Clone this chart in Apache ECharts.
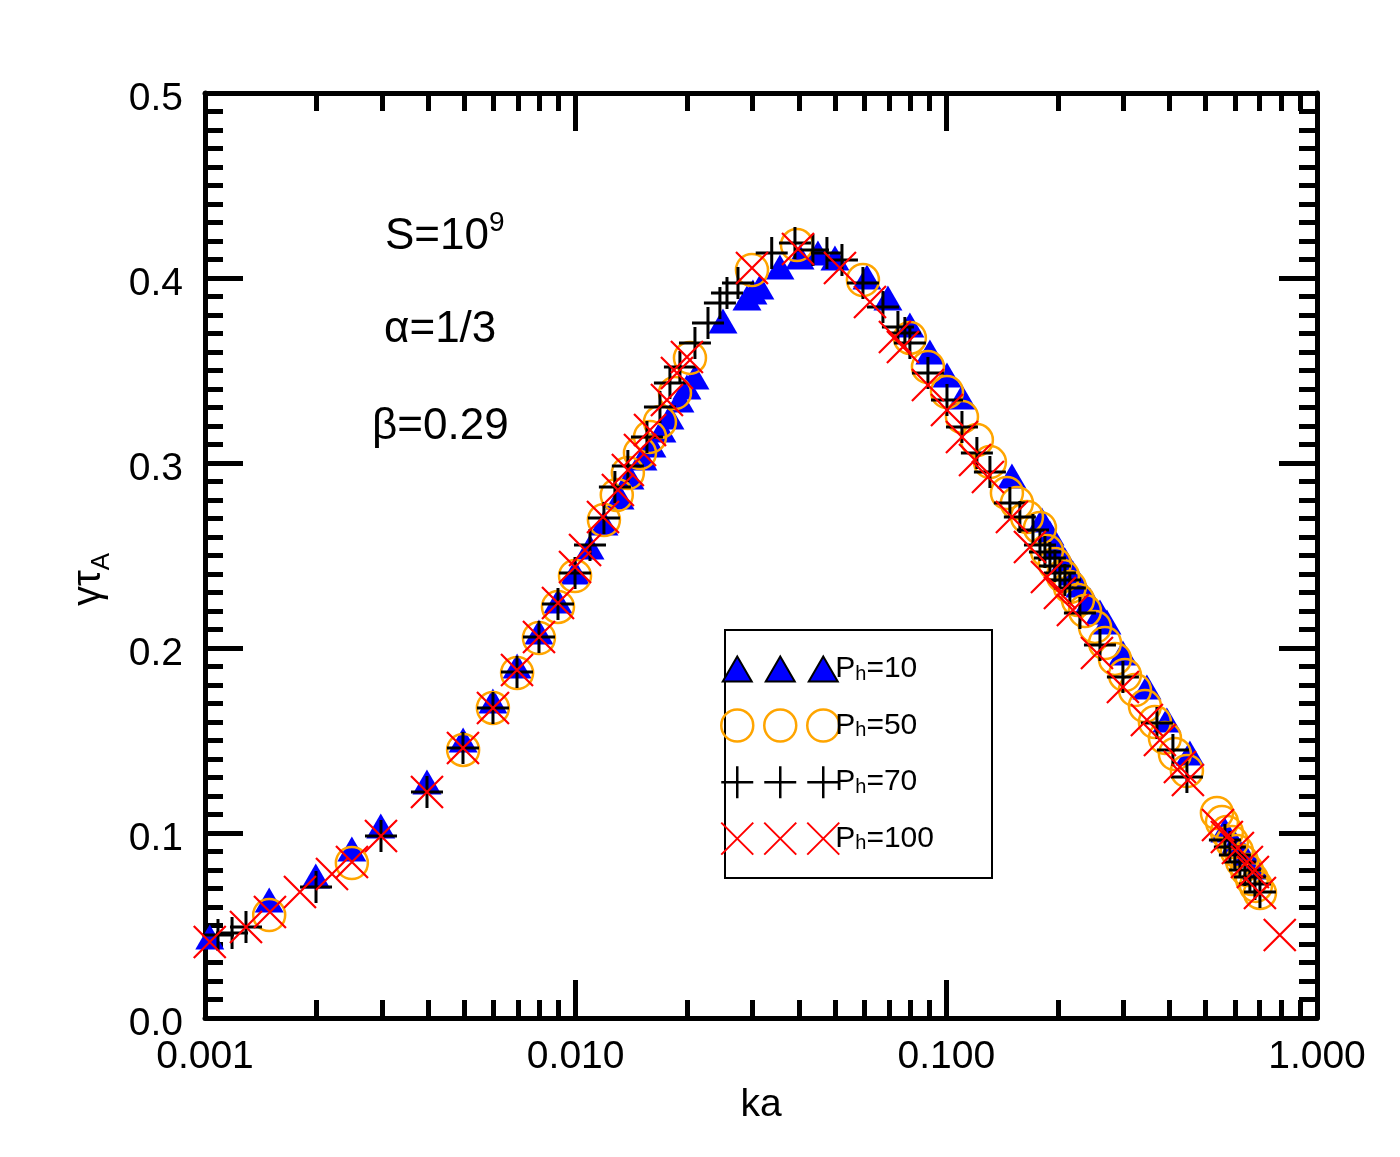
<!DOCTYPE html>
<html>
<head>
<meta charset="utf-8">
<script src="https://cdn.jsdelivr.net/npm/echarts@6/dist/echarts.min.js"></script>
<style>
html, body { margin: 0; padding: 0; background: #fff; }
#chart { width: 1400px; height: 1157px; }
</style>
</head>
<body>
<div id="chart"></div>
<script>
// ka and gamma*tau_A, one pair of arrays per run
const ka10 = [0.00103, 0.00149, 0.00199, 0.00249, 0.00298, 0.00397, 0.00497, 0.00598, 0.00695, 0.00796, 0.00896, 0.00996,
  0.01093, 0.01192, 0.01317, 0.01401, 0.01519, 0.01606, 0.01709, 0.01796, 0.01911, 0.01996, 0.02098, 0.02497, 0.02898,
  0.03008, 0.0314, 0.03557, 0.04029, 0.04504, 0.05006, 0.06107, 0.06957, 0.07974, 0.0903, 0.1004, 0.1102, 0.1503,
  0.1811, 0.1903, 0.1987, 0.2089, 0.2195, 0.2293, 0.244, 0.2597, 0.2712, 0.2995, 0.3476, 0.3936, 0.4541,
  0.5644, 0.6005, 0.639, 0.6801];
const gam10 = [0.0438, 0.0638, 0.0768, 0.0914, 0.1038, 0.1276, 0.1503, 0.1714, 0.1903, 0.2086, 0.2254, 0.2411,
  0.2546, 0.2676, 0.2816, 0.2924, 0.3027, 0.3097, 0.3178, 0.3249, 0.3341, 0.3411, 0.3465, 0.3768, 0.3892,
  0.3924, 0.3951, 0.4059, 0.4114, 0.4135, 0.4108, 0.4005, 0.3892, 0.3746, 0.36, 0.3476, 0.3357, 0.293,
  0.2692, 0.2622, 0.2546, 0.2476, 0.2405, 0.2341, 0.2259, 0.2195, 0.2141, 0.1973, 0.1789, 0.1611, 0.1432,
  0.1016, 0.0946, 0.0881, 0.0816];

const ka50 = [0.00149, 0.00249, 0.00497, 0.00598, 0.00695, 0.00796, 0.00896, 0.00996, 0.01192, 0.01291, 0.01383,
  0.01491, 0.01587, 0.01688, 0.01853, 0.02034, 0.0299, 0.03954, 0.05957, 0.07974, 0.0892, 0.1004, 0.1102, 0.1209,
  0.1311, 0.1457, 0.155, 0.165, 0.1789, 0.1868, 0.1963, 0.2063, 0.2154, 0.2265, 0.2366, 0.2518, 0.2679, 0.285,
  0.3032, 0.3227, 0.3434, 0.3653, 0.3888, 0.4137, 0.4457,
  0.537, 0.554, 0.5712, 0.5894, 0.608, 0.6272, 0.647, 0.6674, 0.6843, 0.7016];
const gam50 = [0.0557, 0.0838, 0.1449, 0.1676, 0.1865, 0.2054, 0.2222, 0.2389, 0.2692, 0.2827, 0.2946,
  0.3054, 0.3141, 0.3222, 0.3378, 0.3568, 0.4043, 0.4178, 0.3989, 0.3676, 0.3519, 0.3384, 0.3249, 0.3124,
  0.3005, 0.2838, 0.2784, 0.2708, 0.2649, 0.2524, 0.2454, 0.2389, 0.233, 0.2259, 0.22, 0.2114, 0.2027, 0.1941,
  0.1854, 0.1773, 0.1686, 0.16, 0.1514, 0.1427, 0.1335,
  0.1108, 0.1059, 0.1005, 0.0951, 0.0903, 0.0849, 0.08, 0.0751, 0.0714, 0.0676];

const ka70 = [0.001084, 0.001183, 0.00129, 0.001993, 0.002984, 0.003971, 0.004966, 0.005983, 0.006946, 0.007962,
  0.00896, 0.00996, 0.01093, 0.01192, 0.01276, 0.01383, 0.01557, 0.01688, 0.01796, 0.01911, 0.02098, 0.02275,
  0.0245, 0.0256, 0.02741, 0.0338, 0.03905, 0.04366, 0.04763, 0.05229, 0.05957, 0.06745, 0.07403, 0.0773, 0.07974,
  0.0892, 0.1004, 0.1102, 0.1209, 0.1311, 0.1484, 0.1579, 0.1713, 0.1789, 0.1845, 0.1903, 0.1963, 0.2025, 0.2089,
  0.2154, 0.2293, 0.2597, 0.2995, 0.37, 0.4086, 0.4457,
  0.5644, 0.5821, 0.6005, 0.6194, 0.639, 0.6591, 0.6801, 0.7016];
const gam70 = [0.0449, 0.0459, 0.0492, 0.0708, 0.0984, 0.1222, 0.1459, 0.1676, 0.187, 0.2059,
  0.2238, 0.2405, 0.2557, 0.2703, 0.287, 0.2984, 0.3141, 0.3303, 0.3432, 0.3519, 0.3649, 0.3757,
  0.3865, 0.3919, 0.3973, 0.4135, 0.4189, 0.4151, 0.4135, 0.4097, 0.3973, 0.3843, 0.3735, 0.3703, 0.3649,
  0.3486, 0.3341, 0.3195, 0.3054, 0.2951, 0.2784, 0.2708, 0.2638, 0.2557, 0.2519, 0.2486, 0.2443, 0.2405, 0.2368,
  0.2324, 0.2189, 0.2016, 0.1843, 0.1595, 0.1449, 0.1303,
  0.0962, 0.0924, 0.0881, 0.0843, 0.08, 0.0762, 0.0724, 0.0681];

const ka100 = [0.00103, 0.00129, 0.001497, 0.001804, 0.002201, 0.002492, 0.002984, 0.003971, 0.004966, 0.005983,
  0.006946, 0.007962, 0.00896, 0.00996, 0.0106, 0.01185, 0.013, 0.01383, 0.01491, 0.01587, 0.01763, 0.01876,
  0.01996, 0.0299, 0.03979, 0.05164, 0.06223, 0.07266, 0.07636, 0.0892, 0.1004, 0.1102, 0.1195, 0.1295, 0.1503,
  0.1681, 0.1868, 0.2025, 0.2195, 0.2549, 0.2995, 0.3476, 0.3769, 0.4267, 0.4485,
  0.5406, 0.5712, 0.6118, 0.647, 0.6716, 0.7016, 0.7935];
const gam100 = [0.0411, 0.0492, 0.0573, 0.0681, 0.0778, 0.0843, 0.0984, 0.1222, 0.1459, 0.1676,
  0.1881, 0.2059, 0.2243, 0.2438, 0.253, 0.2708, 0.2854, 0.2962, 0.307, 0.3178, 0.3341, 0.3486,
  0.3573, 0.4054, 0.4157, 0.4054, 0.387, 0.3681, 0.3627, 0.3422, 0.3286, 0.3141, 0.3016, 0.2924, 0.2708,
  0.2546, 0.2384, 0.2297, 0.2205, 0.1973, 0.1789, 0.1611, 0.1503, 0.1357, 0.1286,
  0.1043, 0.0978, 0.0919, 0.0843, 0.0789, 0.0676, 0.0449];

const runNames = ['P_h=10', 'P_h=50', 'P_h=70', 'P_h=100'];
const yTicks = ['0.0', '0.1', '0.2', '0.3', '0.4', '0.5'];

const font = 'Liberation Sans, Arial, Helvetica, sans-serif';

function pairs(ka, g) {
  return ka.map((k, i) => [k, g[i]]);
}

// marker shapes
const plusPath = 'path://M0,16L32,16M16,0L16,32';
const crossPath = 'path://M0,0L32,32M32,0L0,32';
// legend shows three markers per row
const triRow = 'path://M0,0M118,32M1.5,28.5L16,3.5L30.5,28.5ZM44.5,28.5L59,3.5L73.5,28.5ZM87.5,28.5L102,3.5L116.5,28.5Z';
const circRow = 'path://M0,16A16,16 0 1,1 32,16A16,16 0 1,1 0,16ZM43,16A16,16 0 1,1 75,16A16,16 0 1,1 43,16ZM86,16A16,16 0 1,1 118,16A16,16 0 1,1 86,16Z';
const plusRow = 'path://M0,16L32,16M16,0L16,32M43,16L75,16M59,0L59,32M86,16L118,16M102,0L102,32';
const crossRow = 'path://M0,0L32,32M32,0L0,32M43,0L75,32M75,0L43,32M86,0L118,32M118,0L86,32';

const tickStyle = { color: '#000', width: 5 };

function xAxisBase(pos, showLabel) {
  return {
    type: 'log',
    logBase: 10,
    position: pos,
    min: 0.001,
    max: 1,
    splitNumber: 3,
    axisLine: { show: true, onZero: false, lineStyle: { color: '#000', width: 5 } },
    axisTick: { show: true, inside: true, length: 38, lineStyle: tickStyle },
    minorTick: { show: true, splitNumber: 9, length: 18, lineStyle: tickStyle },
    splitLine: { show: false },
    minorSplitLine: { show: false },
    axisLabel: {
      show: showLabel, margin: 20, color: '#000', fontSize: 39, fontFamily: font,
      formatter: v => v.toFixed(3)
    }
  };
}

function yAxisBase(pos, showLabel) {
  return {
    type: 'value',
    position: pos,
    min: 0,
    max: 0.5,
    interval: 0.1,
    axisLine: { show: true, onZero: false, lineStyle: { color: '#000', width: 5 } },
    axisTick: { show: true, inside: true, length: 38, lineStyle: tickStyle },
    minorTick: { show: true, splitNumber: 10, length: 18, lineStyle: tickStyle },
    splitLine: { show: false },
    minorSplitLine: { show: false },
    axisLabel: {
      show: showLabel, margin: 22, color: '#000', fontSize: 39, fontFamily: font,
      verticalAlign: 'top', lineHeight: 13,
      formatter: v => yTicks[Math.round(v * 10)]
    }
  };
}

const bottomX = xAxisBase('bottom', true);
bottomX.name = 'ka';
bottomX.nameLocation = 'middle';
bottomX.nameGap = 68;
bottomX.nameTextStyle = { color: '#000', fontSize: 39, fontFamily: font };

const leftY = yAxisBase('left', true);
leftY.name = '{g|γτ}{s|A}';
leftY.nameLocation = 'middle';
leftY.nameRotate = 90;
leftY.nameGap = 90;
leftY.nameTextStyle = {
  color: '#000', fontFamily: font, padding: [0, 48, 0, 0],
  rich: {
    g: { fontSize: 40, lineHeight: 52, fontFamily: font, color: '#000' },
    s: { fontSize: 26, verticalAlign: 'bottom', fontFamily: font, color: '#000' }
  }
};

const legendRich = {
  n: { fontSize: 30, lineHeight: 30, fontFamily: font, color: '#000' },
  s: { fontSize: 20, lineHeight: 8, verticalAlign: 'bottom', fontFamily: font, color: '#000' }
};

const chart = echarts.init(document.getElementById('chart'));
chart.setOption({
  animation: false,
  backgroundColor: '#fff',
  grid: { left: 205, right: 83, top: 93, bottom: 139 },
  xAxis: [bottomX, xAxisBase('top', false)],
  yAxis: [leftY, yAxisBase('right', false)],
  legend: {
    orient: 'vertical',
    left: 720,
    top: 652,
    itemWidth: 118,
    itemHeight: 32,
    itemGap: 22.2,
    padding: 0,
    selectedMode: false,
    formatter: name => '{n|P}{s|h}{n|' + name.split('_h')[1] + '}',
    textStyle: { rich: legendRich, padding: [0, 0, 0, -9] },
    data: [
      { name: runNames[0], icon: triRow, itemStyle: { color: '#0000ff', borderColor: '#000', borderWidth: 2 } },
      { name: runNames[1], icon: circRow, itemStyle: { color: 'rgba(0,0,0,0)', borderColor: '#ffa500', borderWidth: 2.5 } },
      { name: runNames[2], icon: plusRow, itemStyle: { color: 'rgba(0,0,0,0)', borderColor: '#000', borderWidth: 2.5 } },
      { name: runNames[3], icon: crossRow, itemStyle: { color: 'rgba(0,0,0,0)', borderColor: '#ff0000', borderWidth: 2 } }
    ]
  },
  graphic: [
    {
      type: 'rect', z: 3, silent: true,
      shape: { x: 725, y: 630, width: 267, height: 248 },
      style: { fill: '#fff', stroke: '#000', lineWidth: 2 }
    },
    {
      type: 'text', x: 385, y: 237, silent: true,
      style: {
        text: '{a|S=10}{b|9}', align: 'left', verticalAlign: 'middle',
        rich: {
          a: { fontSize: 44, lineHeight: 56, fontFamily: font, fill: '#000' },
          b: { fontSize: 28, verticalAlign: 'top', fontFamily: font, fill: '#000' }
        }
      }
    },
    {
      type: 'text', x: 384, y: 330, silent: true,
      style: { text: 'α=1/3', fontSize: 44, fontFamily: font, fill: '#000', align: 'left', verticalAlign: 'middle' }
    },
    {
      type: 'text', x: 372, y: 427, silent: true,
      style: { text: 'β=0.29', fontSize: 44, fontFamily: font, fill: '#000', align: 'left', verticalAlign: 'middle' }
    }
  ],
  series: [
    {
      name: runNames[0], type: 'scatter', data: pairs(ka10, gam10),
      symbol: 'triangle', symbolSize: [29, 25],
      itemStyle: { color: '#0000ff', opacity: 1 },
      emphasis: { disabled: true }
    },
    {
      name: runNames[1], type: 'scatter', data: pairs(ka50, gam50),
      symbol: 'circle', symbolSize: 32,
      itemStyle: { color: 'rgba(0,0,0,0)', borderColor: '#ffa500', borderWidth: 2.5, opacity: 1 },
      emphasis: { disabled: true }
    },
    {
      name: runNames[2], type: 'scatter', data: pairs(ka70, gam70),
      symbol: plusPath, symbolSize: 32,
      itemStyle: { color: 'rgba(0,0,0,0)', borderColor: '#000', borderWidth: 3, opacity: 1 },
      emphasis: { disabled: true }
    },
    {
      name: runNames[3], type: 'scatter', data: pairs(ka100, gam100),
      symbol: crossPath, symbolSize: 32,
      itemStyle: { color: 'rgba(0,0,0,0)', borderColor: '#ff0000', borderWidth: 2.2, opacity: 1 },
      emphasis: { disabled: true }
    }
  ]
});
</script>
</body>
</html>
